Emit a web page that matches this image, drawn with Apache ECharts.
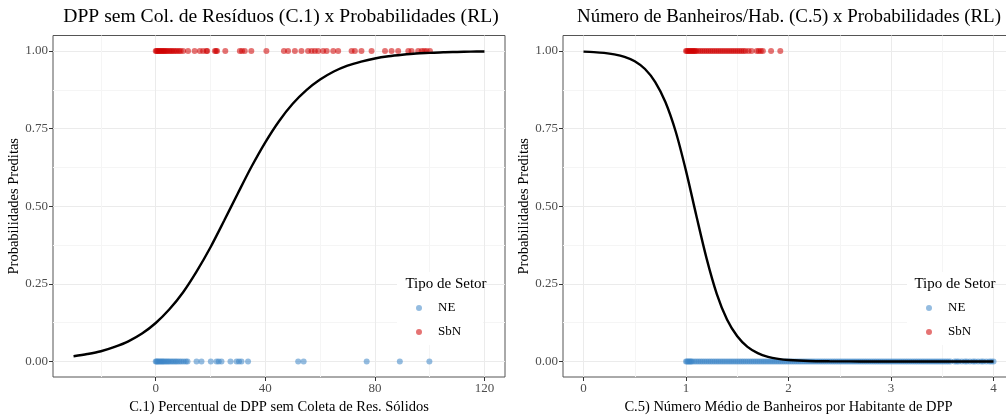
<!DOCTYPE html>
<html>
<head>
<meta charset="utf-8">
<script src="https://cdn.jsdelivr.net/npm/echarts@6/dist/echarts.min.js"></script>
<style>html,body{margin:0;padding:0;background:#fff}#c{width:1006px;height:417px}</style>
</head>
<body>
<div id="c"></div>
<script>
// ---- Data ----
const leftTitle = 'DPP sem Col. de Resíduos (C.1) x Probabilidades (RL)';
const rightTitle = 'Número de Banheiros/Hab. (C.5) x Probabilidades (RL)';
const leftXName = 'C.1) Percentual de DPP sem Coleta de Res. Sólidos';
const rightXName = 'C.5) Número Médio de Banheiros por Habitante de DPP';
const yName = 'Probabilidades Preditas';
const legendTitle = 'Tipo de Setor';
const groups = ['NE', 'SbN'];

const yTicks = [0, 0.25, 0.5, 0.75, 1];
const yMinor = [0.125, 0.375, 0.625, 0.875];
const leftXTicks = [0, 40, 80, 120];
const leftXMinor = [-20, 20, 60, 100];
const rightXTicks = [0, 1, 2, 3, 4];
const rightXMinor = [0.5, 1.5, 2.5, 3.5];

// left panel fitted curve (x, predicted probability)
const leftCurveX = [-30,-25,-20,-15,-10,-5,0,5,10,15,20,25,30,35,40,45,50,55,60,65,70,75,80,85,90,95,100,105,110,115,120];
const leftCurveP = [0.017,0.024,0.033,0.047,0.065,0.090,0.124,0.168,0.223,0.291,0.368,0.454,0.542,0.628,0.706,0.774,0.830,0.874,0.908,0.934,0.953,0.966,0.976,0.983,0.988,0.992,0.994,0.996,0.997,0.998,0.9986];

// left panel observations
const leftSbN = [0,0.3,0.6,1,1.3,1.7,2,2.4,2.8,3.1,3.5,4,4.4,5,5.5,6,6.6,7.2,7.8,8.5,9.1,10,11.8,14.2,16.1,17.3,18.5,18.8,21.6,22.0,22.4,25.4,30.7,31.5,32.5,34.9,40.4,46.8,48.3,50.8,53.2,55.6,56.9,58.1,59.3,61.1,62.4,64.8,66.6,71.5,72.7,75.1,78.8,83.7,86.1,88.5,92.2,93.4,95.8,97.1,98.0,98.9,100.1];
const leftNE = [0,0.3,0.6,1,1.4,1.8,2.2,2.6,3,3.5,4,4.5,5,5.6,6.2,6.8,7.4,8,8.7,9.4,10.2,11,11.6,14.9,16.7,20.1,22.2,23.0,24,27.3,29.5,30.4,31.3,33.7,52,54,77,89.1,99.9];

// right panel fitted curve
const rightCurveX = [0,0.1,0.2,0.3,0.4,0.5,0.6,0.7,0.8,0.9,1.0,1.1,1.2,1.3,1.4,1.5,1.6,1.7,1.8,1.9,2.0,2.2,2.4,2.6,2.8,3.0,3.5,4.0];
const rightCurveP = [0.998,0.9966,0.994,0.989,0.981,0.967,0.942,0.900,0.835,0.740,0.614,0.471,0.333,0.218,0.135,0.081,0.047,0.027,0.015,0.0085,0.0048,0.0015,0.0005,0.0002,0.0001,0.00003,0.00001,0];

// right panel observations
const rightSbN = [1.00,1.01,1.02,1.03,1.04,1.05,1.06,1.07,1.08,1.09,1.10,1.12,1.14,1.16,1.18,1.20,1.22,1.24,1.26,1.28,1.30,1.32,1.34,1.36,1.38,1.40,1.42,1.44,1.46,1.48,1.50,1.52,1.54,1.56,1.58,1.61,1.64,1.69,1.71,1.73,1.75,1.83,1.92];
const rightNE = [1.00,1.01,1.02,1.03,1.04,1.05,1.06,1.08,1.10,1.12,1.14,1.16,1.18,1.20,1.22,1.24,1.26,1.28,1.30,1.32,1.34,1.36,1.38,1.40,1.42,1.44,1.46,1.48,1.50,1.52,1.54,1.56,1.58,1.60,1.62,1.64,1.66,1.68,1.70,1.72,1.74,1.76,1.78,1.80,1.82,1.84,1.86,1.88,1.90,1.92,1.94,1.96,1.98,2.00,2.02,2.04,2.06,2.08,2.10,2.12,2.14,2.16,2.18,2.20,2.22,2.24,2.26,2.28,2.30,2.32,2.34,2.36,2.38,2.40,2.42,2.44,2.46,2.48,2.50,2.52,2.54,2.56,2.58,2.60,2.62,2.64,2.66,2.68,2.70,2.72,2.74,2.76,2.78,2.80,2.82,2.84,2.86,2.88,2.90,2.92,2.94,2.96,2.98,3.00,3.02,3.04,3.06,3.08,3.10,3.12,3.14,3.16,3.18,3.20,3.22,3.24,3.26,3.28,3.30,3.32,3.34,3.36,3.38,3.40,3.42,3.44,3.46,3.48,3.50,3.52,3.54,3.56,3.58,3.62,3.64,3.66,3.69,3.72,3.74,3.77,3.80,3.82,3.85,3.88,3.90,3.93,3.96,3.98,4.00];

// ---- Chart ----
const FONT = 'Liberation Serif';
const RED = '#D00000';
const BLUE = '#3D85C6';
const zip = (xs, ys) => xs.map((x, i) => [x, ys[i]]);
const atLevel = (xs, y) => xs.map(x => [x, y]);

function mainX(grid, min, max, ticks, name) {
  return {
    type: 'value', gridIndex: grid, min: min, max: max, position: 'bottom',
    axisLine: { show: false, onZero: false },
    axisTick: { show: true, customValues: ticks, length: 4, lineStyle: { color: '#333', width: 1 } },
    axisLabel: { customValues: ticks, color: '#4d4d4d', fontSize: 13, fontFamily: FONT, margin: 5 },
    splitLine: { show: true, lineStyle: { color: '#ebebeb', width: 1 } },
    name: name, nameLocation: 'middle', nameGap: 21,
    nameTextStyle: { color: '#000', fontSize: 14.5, fontFamily: FONT }
  };
}
function minorX(grid, min, max, ticks) {
  return {
    type: 'value', gridIndex: grid, min: min, max: max, position: 'bottom',
    axisLine: { show: false, onZero: false }, axisLabel: { show: false },
    axisTick: { show: false, customValues: ticks },
    splitLine: { show: true, lineStyle: { color: '#f5f5f5', width: 1 } }
  };
}
function mainY(grid) {
  return {
    type: 'value', gridIndex: grid, min: -0.05, max: 1.05, position: 'left',
    axisLine: { show: false, onZero: false },
    axisTick: { show: true, customValues: yTicks, length: 4, lineStyle: { color: '#333', width: 1 } },
    axisLabel: { customValues: yTicks, color: '#4d4d4d', fontSize: 13, fontFamily: FONT, margin: 5,
                 formatter: v => Number(v).toFixed(2) },
    splitLine: { show: true, lineStyle: { color: '#ebebeb', width: 1 } },
    name: yName, nameLocation: 'middle', nameGap: 23, nameRotate: 90,
    nameTextStyle: { color: '#000', fontSize: 14.5, fontFamily: FONT }
  };
}
function minorY(grid) {
  return {
    type: 'value', gridIndex: grid, min: -0.05, max: 1.05, position: 'left',
    axisLine: { show: false, onZero: false }, axisLabel: { show: false },
    axisTick: { show: false, customValues: yMinor },
    splitLine: { show: true, lineStyle: { color: '#f5f5f5', width: 1 } }
  };
}
function scatter(name, xi, yi, data, color) {
  return {
    type: 'scatter', name: name, xAxisIndex: xi, yAxisIndex: yi, data: data,
    symbol: 'circle', symbolSize: 6,
    itemStyle: { color: color, opacity: 0.55 }, z: 2, silent: true
  };
}
function curve(xi, yi, data) {
  return {
    type: 'line', xAxisIndex: xi, yAxisIndex: yi, data: data, smooth: 0.3,
    showSymbol: false, symbol: 'none', lineStyle: { color: '#000', width: 2.4 }, z: 5, silent: true
  };
}
function legend(left) {
  return {
    data: groups, orient: 'vertical', left: left, top: 272,
    icon: 'circle', itemWidth: 28, itemHeight: 6, itemGap: 10,
    padding: [29, 22, 6, 19], backgroundColor: '#fff',
    textStyle: { color: '#000', fontSize: 13, fontFamily: FONT, lineHeight: 14 },
    selectedMode: false
  };
}

const chart = echarts.init(document.getElementById('c'), null, { renderer: 'canvas' });
chart.setOption({
  backgroundColor: '#fff',
  animation: false,
  grid: [
    { left: 53, top: 35.5, width: 452, height: 341.5, show: true, borderColor: '#555', borderWidth: 1, backgroundColor: '#fff', containLabel: false, outerBoundsMode: 'none' },
    { left: 563, top: 35.5, width: 451, height: 341.5, show: true, borderColor: '#555', borderWidth: 1, backgroundColor: '#fff', containLabel: false, outerBoundsMode: 'none' }
  ],
  xAxis: [
    mainX(0, -37.5, 127.5, leftXTicks, leftXName),
    minorX(0, -37.5, 127.5, leftXMinor),
    mainX(1, -0.2, 4.2, rightXTicks, rightXName),
    minorX(1, -0.2, 4.2, rightXMinor)
  ],
  yAxis: [mainY(0), minorY(0), mainY(1), minorY(1)],
  legend: [legend(397), legend(907)],
  graphic: [
    { type: 'text', x: 281, y: 17, z: 100, style: { text: leftTitle, textAlign: 'center', textVerticalAlign: 'middle', font: '19.6px "Liberation Serif"', fill: '#000' } },
    { type: 'text', x: 789, y: 17, z: 100, style: { text: rightTitle, textAlign: 'center', textVerticalAlign: 'middle', font: '18.9px "Liberation Serif"', fill: '#000' } },
    { type: 'text', x: 446, y: 284, z: 100, style: { text: legendTitle, textAlign: 'center', textVerticalAlign: 'middle', font: '15px "Liberation Serif"', fill: '#000' } },
    { type: 'text', x: 955, y: 284, z: 100, style: { text: legendTitle, textAlign: 'center', textVerticalAlign: 'middle', font: '15px "Liberation Serif"', fill: '#000' } }
  ],
  series: [
    scatter('NE', 0, 0, atLevel(leftNE, 0), BLUE),
    scatter('SbN', 0, 0, atLevel(leftSbN, 1), RED),
    curve(0, 0, zip(leftCurveX, leftCurveP)),
    scatter('NE', 2, 2, atLevel(rightNE, 0), BLUE),
    scatter('SbN', 2, 2, atLevel(rightSbN, 1), RED),
    curve(2, 2, zip(rightCurveX, rightCurveP))
  ]
});
</script>
</body>
</html>
